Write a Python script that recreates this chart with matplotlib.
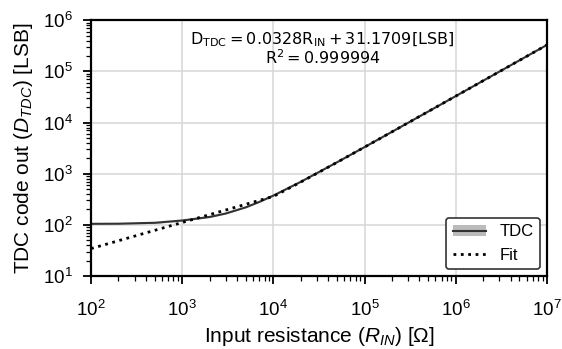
import matplotlib
matplotlib.use('Agg')
import matplotlib.pyplot as plt
from matplotlib.patches import Patch
from matplotlib.lines import Line2D

plt.rcParams['font.family'] = ['Liberation Sans', 'DejaVu Sans']
plt.rcParams['mathtext.fontset'] = 'custom'
plt.rcParams['mathtext.rm'] = 'Liberation Sans'
plt.rcParams['mathtext.it'] = 'Liberation Sans:italic'

r_meas = [1e2, 2e2, 5e2, 1e3, 2e3, 3e3, 5e3, 7e3, 1e4, 2e4, 5e4, 1e5, 2e5, 5e5, 1e6, 2e6, 5e6, 1e7]
tdc = [105, 105.5, 110, 122, 143, 167, 221, 281, 374, 695, 1675, 3313, 6592, 16431, 32831, 65631, 164031, 328031]
tdc_lo = [101, 101.5, 106, 118, 139, 163, 216, 276, 368, 688, 1665, 3300, 6570, 16400, 32780, 65560, 163900, 327800]
tdc_hi = [109, 109.5, 114, 126, 147, 171, 226, 286, 380, 702, 1685, 3326, 6614, 16462, 32882, 65702, 164162, 328262]

# linear fit D = 0.0328 R + 31.1709, evaluated on a linear R grid
r_fit = [1e2, 1.01e4, 2e4, 3e4, 5e4, 1e5, 2e5, 5e5, 1e6, 2e6, 5e6, 1e7]
fit = [34.45, 362.45, 687.17, 1015.17, 1671.17, 3311.17, 6591.17, 16431.17,
       32831.17, 65631.17, 164031.17, 328031.17]

fig = plt.figure(figsize=(5.62, 3.49), dpi=100)
ax = fig.add_axes([0.162, 0.209, 0.811, 0.733])

ax.fill_between(r_meas, tdc_lo, tdc_hi, color='#aaaaaa', alpha=0.8, lw=0)
ax.plot(r_meas, tdc, color='#333333', lw=1.5)
ax.plot(r_fit, fit, ':', color='black', lw=2)

ax.set_xscale('log')
ax.set_yscale('log')
ax.set_xlim(1e2, 1e7)
ax.set_ylim(1e1, 1e6)
ax.grid(True, which='major', color='#d6d6d6', lw=1.1)

for s in ax.spines.values():
    s.set_linewidth(1.6)
ax.tick_params(which='major', length=6, width=1.3, labelsize=13.5)
ax.tick_params(which='minor', length=3.5, width=0.9)
ax.tick_params(axis='x', which='major', pad=11)
ax.tick_params(axis='y', which='major', pad=7)

ax.set_xlabel(r'Input resistance ($R_{IN}$) [$\Omega$]', fontsize=15, labelpad=4)
ax.set_ylabel(r'TDC code out ($D_{TDC}$) [LSB]', fontsize=15, labelpad=6)

ax.text(0.508, 0.922, r'$\mathrm{D_{TDC} = 0.0328R_{IN} + 31.1709[LSB]}$', transform=ax.transAxes,
        ha='center', va='center', fontsize=11.5, family='DejaVu Sans', math_fontfamily='dejavusans')
ax.text(0.508, 0.855, r'$\mathrm{R^2 = 0.999994}$', transform=ax.transAxes,
        ha='center', va='center', fontsize=11.5, family='DejaVu Sans', math_fontfamily='dejavusans')

band = Patch(facecolor='#aaaaaa', alpha=0.8)
line = Line2D([], [], color='#333333', lw=1.5)
fitl = Line2D([], [], ls=':', color='black', lw=2)
leg = ax.legend([(band, line), fitl], ['TDC', 'Fit'], loc='lower right', fontsize=12,
                fancybox=True, framealpha=1, edgecolor='#333333', handlelength=2.0,
                borderaxespad=0.4)
leg.get_frame().set_linewidth(1.2)

fig.savefig('out.png', dpi=100)
